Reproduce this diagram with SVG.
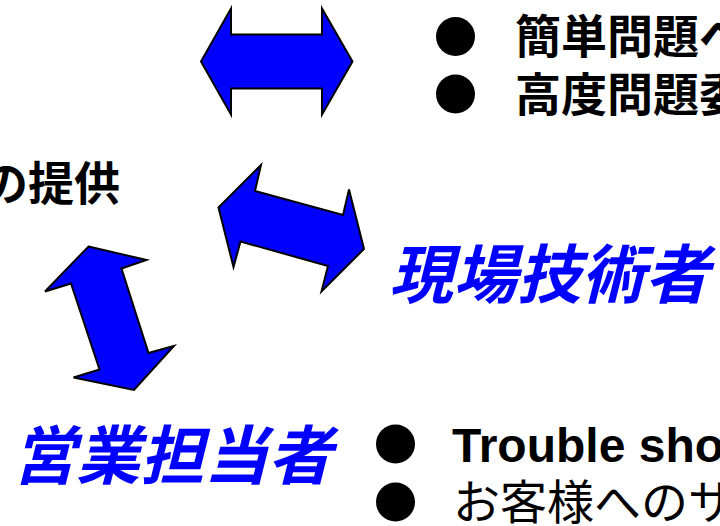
<svg xmlns="http://www.w3.org/2000/svg" width="720" height="526" viewBox="0 0 720 526">
<style>
.arrow{fill:#0000FF;stroke:#000;stroke-width:2;stroke-linejoin:miter}
.jb{font-family:"Noto Sans CJK JP","Liberation Sans",sans-serif;font-size:46px;font-weight:bold;fill:#000}
.jr{font-family:"Noto Sans CJK JP","Liberation Sans",sans-serif;font-size:47px;font-weight:normal;fill:#000}
.lat{font-family:"Liberation Sans",Arial,sans-serif;font-size:48px;font-weight:bold;fill:#000}
.role{font-family:"Noto Sans CJK JP",sans-serif;font-size:64px;font-weight:bold;font-style:italic;fill:#0000FF}
.bul{fill:#000}
</style>
<rect width="720" height="526" fill="#fff"/>
<g id="connectors">
<polygon class="arrow" points="201,61.5 231,8.5 231,34.5 322,34.5 322,8.5 352.5,61.5 322,114.5 322,88.5 231,88.5 231,114.5"/>
<polygon class="arrow" points="218.5,207.5 261,165 255,191 343,215 349,189.5 364,249 321.5,291.5 328,266 240.5,241.5 233.5,267"/>
<polygon class="arrow" points="88.5,246.5 146.5,260 121.5,268.5 148.5,353 174,346 134,390 73.5,377.5 99.5,369.5 71,283.5 45,291.5"/>
</g>
<g id="tech-tasks">
<circle class="bul" cx="455.5" cy="36.5" r="19.5"/>
<text class="jb" x="515" y="53">簡単問題へ</text>
<circle class="bul" cx="455.5" cy="94" r="19.5"/>
<text class="jb" x="515" y="111">高度問題委</text>
</g>
<g id="provide">
<text class="jb" x="120" y="200" text-anchor="end">の提供</text>
</g>
<g id="field-engineer">
<text class="role" x="389" y="298">現場技術者</text>
</g>
<g id="sales">
<text class="role" x="12" y="479">営業担当者</text>
</g>
<g id="sales-tasks">
<circle class="bul" cx="395.5" cy="444" r="19.5"/>
<text class="lat" x="452" y="462">Trouble sho</text>
<circle class="bul" cx="395.5" cy="502" r="19.5"/>
<text class="jr" x="453" y="519">お客様へのサ</text>
</g>
</svg>
